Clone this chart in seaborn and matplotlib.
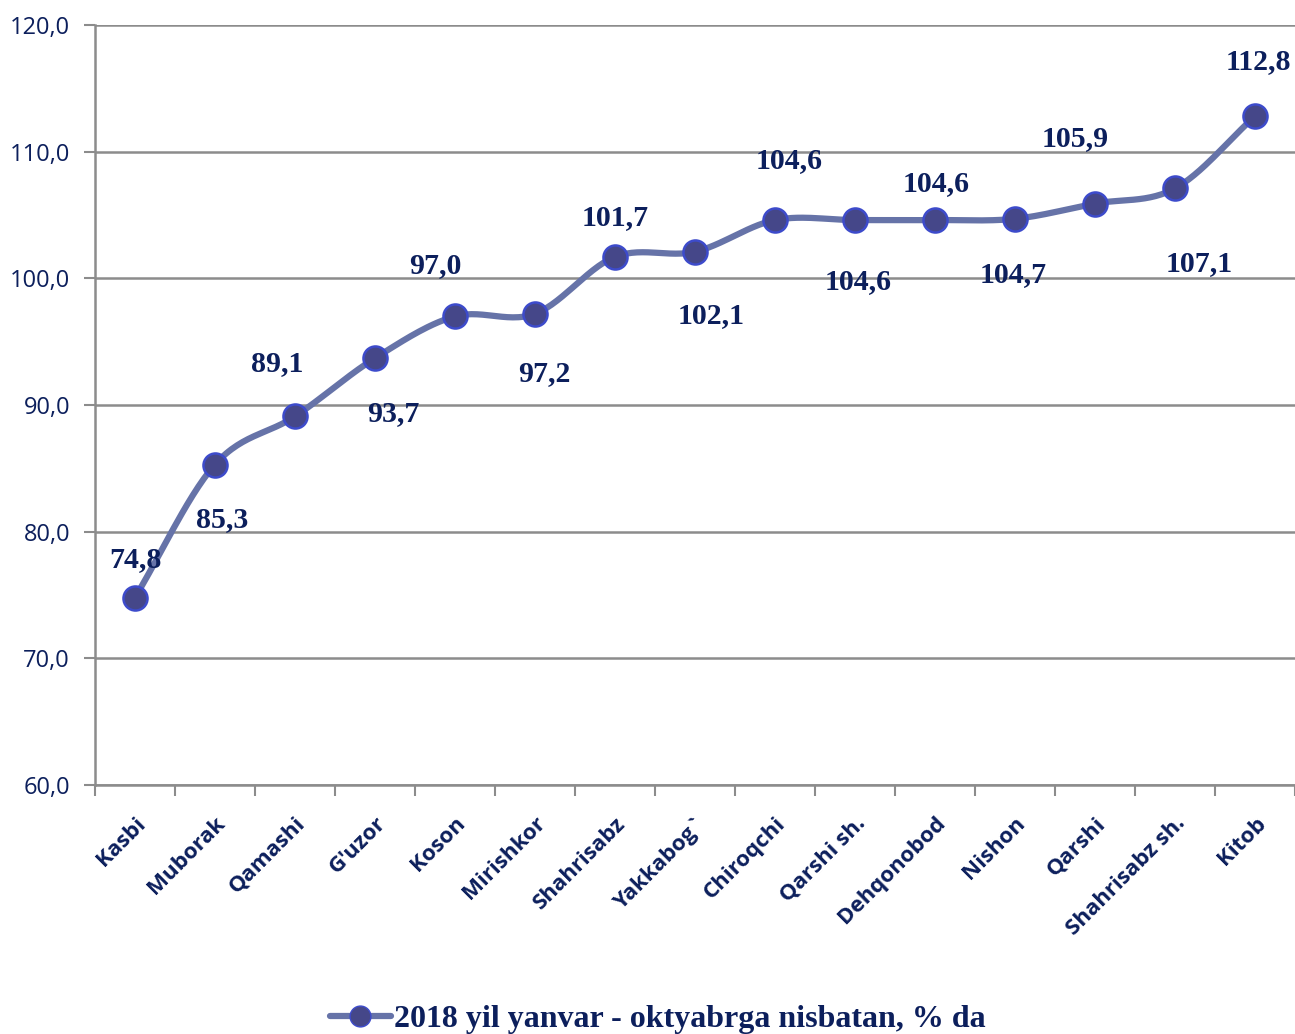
import matplotlib.pyplot as plt
import numpy as np
import pandas as pd
import seaborn as sns
from matplotlib.lines import Line2D
from matplotlib.ticker import FixedLocator, FuncFormatter

DISTRICTS = [
    "Kasbi", "Muborak", "Qamashi", "G'uzor", "Koson", "Mirishkor",
    "Shahrisabz", "Yakkabog`", "Chiroqchi", "Qarshi sh.", "Dehqonobod",
    "Nishon", "Qarshi", "Shahrisabz sh.", "Kitob",
]
VALUES = [74.8, 85.3, 89.1, 93.7, 97.0, 97.2, 101.7, 102.1,
          104.6, 104.6, 104.6, 104.7, 105.9, 107.1, 112.8]
SERIES_NAME = "2018 yil yanvar - oktyabrga nisbatan, % da"

# label offsets in pixels (dx, dy)
LABEL_OFFSETS = [(0, 38), (7, -55), (-18, 53), (18, -55), (-20, 51),
                 (9, -60), (0, 39), (16, -64), (14, 60), (3, -61),
                 (1, 37), (-2, -56), (-20, 65), (24, -75), (3, 55)]

LINE_COLOR = "#6673A8"
MARKER_FACE = "#454789"
MARKER_EDGE = "#3D4BCB"
TEXT_COLOR = "#0C1F5C"
GRID_COLOR = "#8C8C8C"


def smooth(x, y, steps=30):
    # catmull-rom style smoothing, like a "smoothed line" in a spreadsheet
    px = np.concatenate([[2 * x[0] - x[1]], x, [2 * x[-1] - x[-2]]])
    py = np.concatenate([[2 * y[0] - y[1]], y, [2 * y[-1] - y[-2]]])
    xs, ys = [], []
    t = np.linspace(0, 1, steps)
    for i in range(1, len(px) - 2):
        for p, out in ((px, xs), (py, ys)):
            p0, p1, p2, p3 = p[i - 1], p[i], p[i + 1], p[i + 2]
            out.extend(0.5 * ((2 * p1) + (-p0 + p2) * t
                              + (2 * p0 - 5 * p1 + 4 * p2 - p3) * t ** 2
                              + (-p0 + 3 * p1 - 3 * p2 + p3) * t ** 3))
    return np.array(xs), np.array(ys)


sns.set_style("white")
plt.rcParams["font.family"] = ["Open Sans", "DejaVu Sans"]

fig = plt.figure(figsize=(12.95, 10.34), dpi=100)
ax = fig.add_axes([95 / 1295, 1 - 785 / 1034, 1200 / 1295, 760 / 1034])

xpos = np.arange(len(DISTRICTS), dtype=float)
vals = np.array(VALUES)
sx, sy = smooth(xpos, vals)
curve = pd.DataFrame({"x": sx, "y": sy})
points = pd.DataFrame({"x": xpos, "y": vals})

sns.lineplot(data=curve, x="x", y="y", sort=False, ax=ax,
             color=LINE_COLOR, linewidth=4.5, zorder=3)
sns.scatterplot(data=points, x="x", y="y", ax=ax, s=300,
                color=MARKER_FACE, edgecolor=MARKER_EDGE, linewidth=1.8,
                zorder=4)

for x, v, (dx, dy) in zip(xpos, VALUES, LABEL_OFFSETS):
    ax.annotate(f"{v:.1f}".replace(".", ","), (x, v), xytext=(dx, dy),
                textcoords="offset pixels", ha="center", va="center",
                fontsize=21.5, fontweight="bold", color=TEXT_COLOR,
                family="Liberation Serif")

# axes
ax.set_xlim(-0.5, len(DISTRICTS) - 0.5)
ax.set_ylim(60, 120)
ax.set_yticks(np.arange(60, 121, 10))
ax.yaxis.set_major_formatter(FuncFormatter(lambda v, _: f"{v:.1f}".replace(".", ",")))
ax.set_xticks(xpos)
ax.set_xticklabels(DISTRICTS, rotation=45, ha="right", rotation_mode="anchor",
                   fontsize=16, fontweight="bold", color=TEXT_COLOR)
ax.xaxis.set_minor_locator(FixedLocator(np.arange(-0.5, len(DISTRICTS), 1)))
ax.tick_params(axis="x", which="major", length=0, pad=20)
ax.tick_params(axis="x", which="minor", length=8, width=1.5, color=GRID_COLOR,
               direction="out", bottom=True)
ax.tick_params(axis="y", length=8, width=1.5, color=GRID_COLOR, left=True,
               labelsize=17, labelcolor=TEXT_COLOR, pad=10)
ax.set_xlabel("")
ax.set_ylabel("")

ax.yaxis.grid(True, color=GRID_COLOR, linewidth=1.8)
ax.set_axisbelow(True)
for side in ("top", "right"):
    ax.spines[side].set_visible(False)
for side in ("left", "bottom"):
    ax.spines[side].set_color(GRID_COLOR)
    ax.spines[side].set_linewidth(1.8)

# legend
handle = Line2D([], [], color=LINE_COLOR, linewidth=4.5, marker="o",
                markersize=15, markerfacecolor=MARKER_FACE,
                markeredgecolor=MARKER_EDGE)
fig.legend([handle], [SERIES_NAME], loc="center", bbox_to_anchor=(0.508, 0.014),
           frameon=False, handlelength=1.9, handletextpad=0.1,
           prop={"family": "Liberation Serif", "weight": "bold", "size": 23},
           labelcolor=TEXT_COLOR)

plt.savefig("out.png", dpi=100)
